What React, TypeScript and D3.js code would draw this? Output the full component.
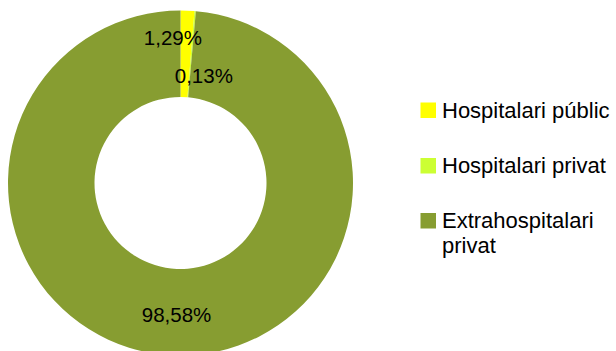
import React from "react";
import * as d3 from "d3";

const categories = ["Hospitalari públic", "Hospitalari privat", "Extrahospitalari privat"];
const values = [1.29, 0.13, 98.58];
const labels = ["1,29%", "0,13%", "98,58%"];
const legendLines = [["Hospitalari públic"], ["Hospitalari privat"], ["Extrahospitalari", "privat"]];
const colors = ["#FFFF00", "#CCFF33", "#879D31"];

// label nudges (Excel-like placement) relative to the slice centroid
const labelNudge: [number, number][] = [[-13, -12], [12, 25], [2, -1]];

export default function App() {
  const W = 616, H = 351;
  const cx = 180.5, cy = 183;
  const outerR = 172.5, innerR = 86;
  const pie = d3.pie<number>().sort(null).value((d) => d);
  const arcs = pie(values);
  const arc = d3.arc<d3.PieArcDatum<number>>().innerRadius(innerR).outerRadius(outerR);
  const labelArc = d3.arc<d3.PieArcDatum<number>>().innerRadius(133).outerRadius(133);
  const font = "'Liberation Sans', Arial, sans-serif";

  const legendX = 420.5;
  const legendBase = [117.5, 173, 228];
  const legendStep = 25;
  return (
    <svg width={W} height={H} style={{ position: "absolute", left: 0, top: 0 }}>
      <rect width={W} height={H} fill="#fff" />
      <g transform={`translate(${cx},${cy})`}>
        {arcs.map((a, i) => (
          <path key={i} d={arc(a) || ""} fill={colors[i]} />
        ))}
        {arcs.map((a, i) => {
          const [x, y] = labelArc.centroid(a);
          const [nx, ny] = labelNudge[i];
          return (
            <text key={i} x={x + nx} y={y + ny} textAnchor="middle" dy="0.35em"
              fontFamily={font} fontSize={20.5} fill="#000">
              {labels[i]}
            </text>
          );
        })}
      </g>
      {categories.map((c, i) => (
        <g key={c}>
          <rect x={legendX} y={legendBase[i] - 15} width={15.5} height={15.5} fill={colors[i]} />
          <text fontFamily={font} fontSize={22} fill="#000">
            {legendLines[i].map((l, j) => (
              <tspan key={j} x={legendX + 21.5} y={legendBase[i] + j * legendStep}>{l}</tspan>
            ))}
          </text>
        </g>
      ))}
    </svg>
  );
}
